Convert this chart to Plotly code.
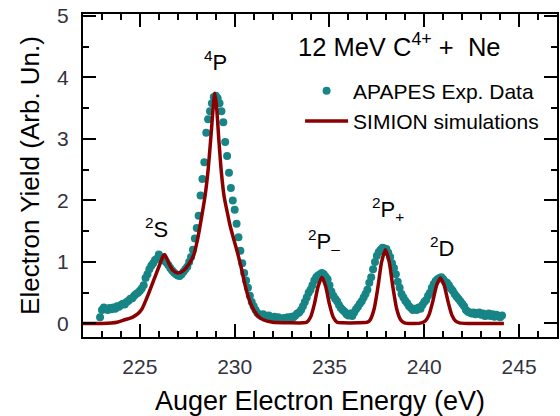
import numpy as np
import plotly.graph_objects as go

# Experimental data (APAPES), 0.1 eV steps starting at 222.9 eV
exp_start = 222.9
exp_step = 0.1
exp_y = [
    0.10, 0.22, 0.26, 0.24, 0.22, 0.25, 0.23, 0.26, 0.24, 0.28,
    0.27, 0.30, 0.32, 0.31, 0.35, 0.37, 0.40, 0.41, 0.45, 0.48,
    0.50, 0.53, 0.57, 0.62, 0.74, 0.80, 0.88, 0.94, 0.98, 1.03,
    1.05, 1.12, 1.08, 1.07, 1.02, 0.99, 0.95, 0.90, 0.86, 0.83,
    0.80, 0.78, 0.77, 0.80, 0.84, 0.88, 0.92, 1.00, 1.08, 1.20,
    1.38, 1.55, 1.75, 2.08, 2.35, 2.62, 3.10, 3.32, 3.45, 3.58,
    3.68, 3.70, 3.66, 3.58, 3.45, 3.27, 2.95, 2.72, 2.45, 2.20,
    2.00, 1.85, 1.62, 1.40, 1.18, 0.98, 0.82, 0.70, 0.58, 0.45,
    0.35, 0.28, 0.22, 0.17, 0.14, 0.12, 0.15, 0.12, 0.10, 0.13,
    0.09, 0.08, 0.11, 0.07, 0.10, 0.08, 0.06, 0.09, 0.07, 0.10,
    0.08, 0.11, 0.10, 0.13, 0.16, 0.18, 0.22, 0.28, 0.35, 0.42,
    0.50, 0.55, 0.62, 0.70, 0.75, 0.78, 0.80, 0.82, 0.80, 0.76,
    0.72, 0.62, 0.52, 0.45, 0.40, 0.36, 0.30, 0.25, 0.22, 0.19,
    0.15, 0.13, 0.16, 0.12, 0.18, 0.23, 0.27, 0.32, 0.36, 0.42,
    0.48, 0.55, 0.66, 0.75, 0.88, 1.00, 1.10, 1.16, 1.20, 1.23,
    1.22, 1.21, 1.15, 1.08, 0.98, 0.90, 0.80, 0.68, 0.58, 0.48,
    0.42, 0.37, 0.33, 0.28, 0.25, 0.22, 0.24, 0.22, 0.26, 0.24,
    0.30, 0.35, 0.38, 0.45, 0.50, 0.58, 0.64, 0.69, 0.72, 0.74,
    0.75, 0.72, 0.68, 0.66, 0.62, 0.57, 0.53, 0.48, 0.44, 0.40,
    0.36, 0.32, 0.28, 0.22, 0.19, 0.18, 0.16, 0.18, 0.15, 0.17,
    0.18, 0.14, 0.16, 0.12, 0.13, 0.16, 0.12, 0.15, 0.11, 0.14,
    0.12, 0.10, 0.13,
]
exp_x = np.round(exp_start + exp_step * np.arange(len(exp_y)), 2)

# SIMION simulation curve
sim_x = [
    222.0, 223.0, 223.8, 224.2, 224.6, 224.9, 225.1, 225.4, 225.7, 226.0,
    226.2, 226.3, 226.4, 226.55, 226.75, 227.0, 227.3, 227.6, 227.85, 228.05,
    228.25, 228.45, 228.6, 228.75, 228.85, 228.95, 229.05, 229.15, 229.3, 229.45,
    229.6, 229.75, 229.95, 230.15, 230.35, 230.55, 230.75, 230.95, 231.2, 231.5,
    232.0, 233.0, 233.6, 233.8, 234.0, 234.2, 234.4, 234.6, 234.8, 235.0,
    235.2, 235.4, 235.7, 236.5, 237.0, 237.15, 237.35, 237.55, 237.75, 237.95,
    238.15, 238.35, 238.55, 238.75, 238.95, 239.5, 239.85, 240.05, 240.25, 240.45,
    240.65, 240.85, 241.05, 241.25, 241.45, 241.65, 241.85, 242.3, 244.2,
]
sim_y = [
    0.00, 0.00, 0.02, 0.06, 0.10, 0.16, 0.23, 0.44, 0.68, 0.92,
    1.08, 1.12, 1.07, 0.96, 0.86, 0.82, 0.86, 0.97, 1.12, 1.38,
    1.72, 2.10, 2.50, 3.05, 3.45, 3.74, 3.50, 3.05, 2.45, 2.05,
    1.82, 1.60, 1.37, 1.15, 0.90, 0.62, 0.40, 0.25, 0.13, 0.06,
    0.02, 0.01, 0.01, 0.02, 0.10, 0.31, 0.60, 0.75, 0.60, 0.31,
    0.10, 0.02, 0.01, 0.01, 0.02, 0.06, 0.23, 0.58, 1.00, 1.20,
    1.00, 0.58, 0.23, 0.06, 0.01, 0.00, 0.01, 0.04, 0.14, 0.36,
    0.62, 0.74, 0.62, 0.36, 0.14, 0.04, 0.01, 0.00, 0.00,
]

# Peak labels
peak_labels = ["<sup>4</sup>P", "<sup>2</sup>S", "<sup>2</sup>P<sub>–</sub>",
               "<sup>2</sup>P<sub>+</sub>", "<sup>2</sup>D"]
peak_x = [229.0, 225.9, 234.7, 238.1, 240.95]
peak_y = [4.27, 1.55, 1.33, 1.86, 1.25]

FONT = "Arial, 'Liberation Sans', sans-serif"

fig = go.Figure()
fig.add_trace(go.Scatter(
    x=exp_x, y=exp_y, mode="markers", name="APAPES Exp. Data",
    marker=dict(color="#178585", size=8, line=dict(width=0)),
))
fig.add_trace(go.Scatter(
    x=sim_x, y=sim_y, mode="lines", name="SIMION simulations",
    line=dict(color="#8b0000", width=3.5, shape="spline", smoothing=0.6),
))

for t, xx, yy in zip(peak_labels, peak_x, peak_y):
    fig.add_annotation(x=xx, y=yy, text=t, showarrow=False,
                       font=dict(size=22, color="black", family=FONT))

fig.add_annotation(x=0.887, y=0.905, xref="paper", yref="paper",
                   text="12 MeV C<sup>4+</sup> +  Ne", showarrow=False,
                   xanchor="right", yanchor="middle",
                   font=dict(size=25.5, color="black", family=FONT))

axis_common = dict(
    showline=True, linecolor="black", linewidth=2, mirror="allticks",
    ticks="inside", tickcolor="black", tickwidth=2, ticklen=13,
    showgrid=False, zeroline=False, automargin=False,
    tickfont=dict(size=21, color="#333340", family=FONT),
)

fig.update_xaxes(
    range=[222, 247], tick0=225, dtick=5,
    minor=dict(dtick=1, ticks="inside", ticklen=6, tickwidth=2, tickcolor="black"),
    title=dict(text="Auger Electron Energy (eV)", standoff=14,
               font=dict(size=27, color="black", family=FONT)),
    ticklabelstandoff=10,
    **axis_common,
)
fig.update_yaxes(
    range=[-0.22, 5.03], tick0=0, dtick=1,
    minor=dict(dtick=0.5, ticks="inside", ticklen=6, tickwidth=2, tickcolor="black"),
    title=dict(text="Electron Yield (Arb. Un.)", standoff=10,
               font=dict(size=26, color="black", family=FONT)),
    ticklabelstandoff=8,
    **axis_common,
)

fig.update_layout(
    width=560, height=416,
    margin=dict(l=83, r=3, t=14, b=79),
    paper_bgcolor="white", plot_bgcolor="white",
    font=dict(family=FONT),
    showlegend=True,
    legend=dict(x=0.458, y=0.825, xanchor="left", yanchor="top",
                bgcolor="rgba(0,0,0,0)", borderwidth=0, itemwidth=43,
                font=dict(size=21, color="black", family=FONT),
                tracegroupgap=0),
)

fig.write_html(
    "out.html",
    config={"displayModeBar": False},
    post_script="document.body.style.margin='0';document.body.style.overflow='hidden';",
)
